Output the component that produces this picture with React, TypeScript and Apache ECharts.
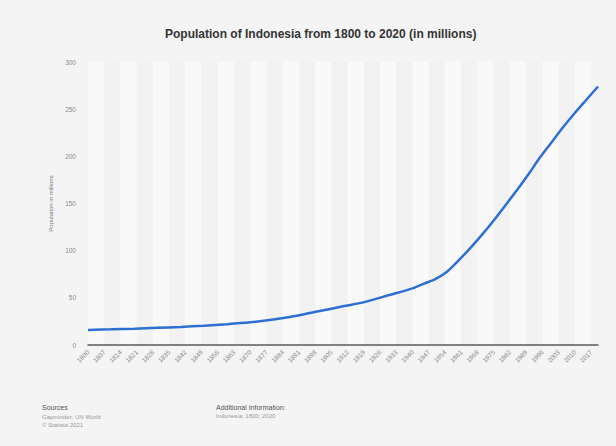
import React, { useEffect, useRef } from "react";
import * as echarts from "echarts";

const years: string[] = [];
for (let y = 1800; y <= 2020; y++) years.push(String(y));

const keyYears = [1800, 1810, 1820, 1830, 1840, 1850, 1860, 1870, 1880, 1890, 1900, 1910, 1920, 1930, 1940, 1945, 1950, 1955, 1960, 1965, 1970, 1975, 1980, 1985, 1990, 1995, 2000, 2005, 2010, 2015, 2020];
const population = [16, 16.6, 17.3, 18.2, 19.2, 20.5, 22, 24, 27, 31, 36, 41, 46, 53, 60, 65, 70, 78, 90, 103, 117, 132, 148, 164, 181, 199, 215, 231, 246, 260, 274];

const yTicks = [0, 50, 100, 150, 200, 250, 300];

export default function App() {
  const ref = useRef<HTMLDivElement>(null);
  useEffect(() => {
    document.body.style.margin = "0";
    const chart = echarts.init(ref.current!, null, { renderer: "svg" });
    const font = "Liberation Sans, Arial, sans-serif";
    chart.setOption({
      animation: false,
      backgroundColor: "#f4f4f4",
      textStyle: { fontFamily: font },
      title: {
        text: "Population of Indonesia from 1800 to 2020 (in millions)",
        left: 160,
        top: 23,
        textStyle: { fontSize: 12, fontWeight: "bold", color: "#333", fontFamily: font },
      },
      grid: { left: 88, right: 18, top: 62, bottom: 101, containLabel: false },
      xAxis: {
        type: "category",
        data: years,
        boundaryGap: false,
        axisLine: { show: true, lineStyle: { color: "#5a5a5a", width: 1.5 } },
        axisTick: { show: false },
        axisLabel: { interval: 6, rotate: 45, fontSize: 6.5, color: "#8a8a8a", margin: 6, fontFamily: font },
        splitLine: { show: false },
        splitArea: { show: true, interval: 6, areaStyle: { color: ["#f9f9f9", "#f2f2f2"] } },
      },
      yAxis: {
        type: "value",
        min: yTicks[0],
        max: yTicks[yTicks.length - 1],
        interval: 50,
        name: "Population in millions",
        nameLocation: "middle",
        nameGap: 34,
        nameTextStyle: { fontSize: 6, color: "#777", fontFamily: font },
        axisLine: { show: false },
        axisTick: { show: false },
        splitLine: { show: false },
        axisLabel: { fontSize: 6.5, color: "#8a8a8a", margin: 12, fontFamily: font },
      },
      series: [
        {
          type: "line",
          data: keyYears.map((y, i) => [String(y), population[i]]),
          smooth: 0.3,
          showSymbol: false,
          lineStyle: { color: "#2d6fd2", width: 2.5 },
          itemStyle: { color: "#2d6fd2" },
        },
      ],
      graphic: [
        { type: "text", left: 42, top: 404, style: { text: "Sources", fontSize: 7, fill: "#555", fontFamily: font } },
        { type: "text", left: 42, top: 413, style: { text: "Gapminder; UN World\n© Statista 2021", fontSize: 6, lineHeight: 8, fill: "#9a9a9a", fontFamily: font } },
        { type: "text", left: 216, top: 404, style: { text: "Additional Information:", fontSize: 7, fill: "#555", fontFamily: font } },
        { type: "text", left: 216, top: 413, style: { text: "Indonesia; 1800; 2020", fontSize: 6, fill: "#9a9a9a", fontFamily: font } },
      ],
    });
    return () => chart.dispose();
  }, []);
  return <div ref={ref} style={{ width: 616, height: 446 }} />;
}
